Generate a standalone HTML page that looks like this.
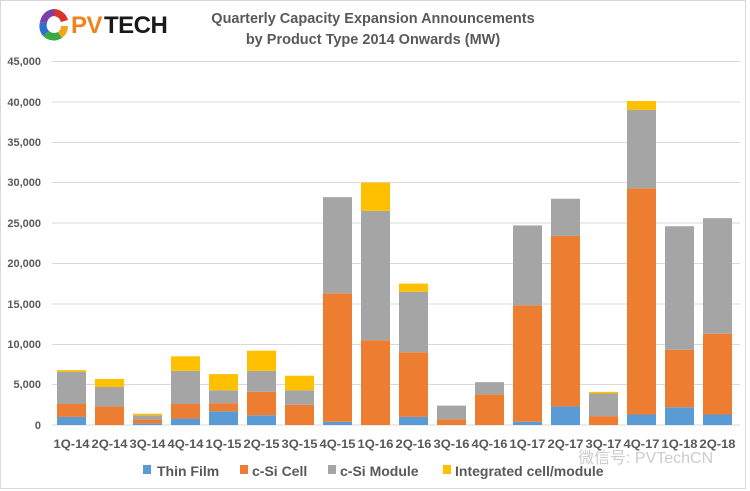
<!DOCTYPE html>
<html><head><meta charset="utf-8"><style>
body{margin:0;background:#fff;}
svg{display:block;font-family:"Liberation Sans",sans-serif;}
</style></head><body>
<svg width="750" height="491" viewBox="0 0 750 491" xmlns="http://www.w3.org/2000/svg">
<rect x="0.5" y="0.5" width="745" height="488" fill="#fff" stroke="#d9d9d9"/>
<!-- logo -->
<g>
<path d="M54 9 A15 15 0 0 1 68 20 L61 22 A8 8 0 0 0 54 16 Z" fill="#d9342b"/>
<path d="M40 22 A15 15 0 0 1 54 9 L54 16 A8 8 0 0 0 47 23 Z" fill="#7a3fa8"/>
<path d="M47 23 A8 8 0 0 0 49 31 L43 36 A15 15 0 0 1 40 22 Z" fill="#2a6fd1"/>
<path d="M49 31 A8 8 0 0 0 58 32 L62 38 A15 15 0 0 1 43 36 Z" fill="#39a845"/>
<path d="M58 32 A8 8 0 0 0 61 26 L68 26 A15 15 0 0 1 62 38 Z" fill="#f2a51a"/>
<text x="71" y="33" font-size="24" font-weight="bold" fill="#f0831d" letter-spacing="-0.5">PV</text>
<text x="104" y="33" font-size="24" font-weight="bold" fill="#1a1a1a" letter-spacing="-0.5">TECH</text>
</g>
<text x="373" y="23" font-size="14.5" fill="#595959" text-anchor="middle" font-weight="bold">Quarterly Capacity Expansion Announcements</text>
<text x="373" y="44" font-size="14.5" fill="#595959" text-anchor="middle" font-weight="bold">by Product Type 2014 Onwards (MW)</text>
<g stroke="#d9d9d9" stroke-width="1">
<line x1="52" x2="740" y1="61.5" y2="61.5"/><line x1="52" x2="740" y1="102" y2="102"/>
<line x1="52" x2="740" y1="142.5" y2="142.5"/><line x1="52" x2="740" y1="182.5" y2="182.5"/>
<line x1="52" x2="740" y1="223" y2="223"/><line x1="52" x2="740" y1="263.5" y2="263.5"/>
<line x1="52" x2="740" y1="304" y2="304"/><line x1="52" x2="740" y1="344.5" y2="344.5"/>
<line x1="52" x2="740" y1="384.5" y2="384.5"/><line x1="52" x2="740" y1="425" y2="425"/>
</g>
<g font-size="11" font-weight="bold" fill="#595959" text-anchor="end">
<text x="41" y="65">45,000</text><text x="41" y="106">40,000</text><text x="41" y="146">35,000</text>
<text x="41" y="186">30,000</text><text x="41" y="227">25,000</text><text x="41" y="267">20,000</text>
<text x="41" y="308">15,000</text><text x="41" y="348">10,000</text><text x="41" y="388">5,000</text>
<text x="41" y="429">0</text>
</g>
<g id="bars"></g>
<g id="labels" font-size="12" font-weight="bold" fill="#595959" text-anchor="middle"></g>
<g font-size="14" font-weight="bold" fill="#595959">
<rect x="143" y="465" width="8" height="9" fill="#5b9bd5"/><text x="157" y="476">Thin Film</text>
<rect x="240" y="465" width="8" height="9" fill="#ed7d31"/><text x="252" y="476">c-Si Cell</text>
<rect x="328" y="465" width="8" height="9" fill="#a5a5a5"/><text x="340" y="476">c-Si Module</text>
<rect x="443" y="465" width="8" height="9" fill="#ffc000"/><text x="455" y="476">Integrated cell/module</text>
</g>
<text x="578" y="463" font-size="16" fill="#cccccc" font-family="'Liberation Sans','Noto Sans CJK SC',sans-serif">微信号: PVTechCN</text>
<script>
var d=[["1Q-14",1000,2600,6600,6800],["2Q-14",0,2300,4700,5700],["3Q-14",200,700,1200,1400],["4Q-14",800,2600,6700,8500],["1Q-15",1700,2700,4300,6300],["2Q-15",1200,4100,6700,9200],["3Q-15",0,2500,4300,6100],["4Q-15",400,16300,28200,28200],["1Q-16",0,10500,26500,30000],["2Q-16",1000,9000,16500,17500],["3Q-16",0,700,2400,2400],["4Q-16",0,3800,5300,5300],["1Q-17",400,14800,24700,24700],["2Q-17",2300,23400,28000,28000],["3Q-17",0,1100,3900,4100],["4Q-17",1300,29300,39000,40100],["1Q-18",2200,9300,24600,24600],["2Q-18",1300,11300,25600,25600]];
var c=["#5b9bd5","#ed7d31","#a5a5a5","#ffc000"],ns="http://www.w3.org/2000/svg",b=document.getElementById("bars"),l=document.getElementById("labels");
function y(v){return 425-v*40.4/5000;}
d.forEach(function(r,i){var x=57+i*38;var p=0;for(var k=0;k<4;k++){var v=r[k+1];if(v>p){var e=document.createElementNS(ns,"rect");e.setAttribute("x",x);e.setAttribute("width",29);e.setAttribute("y",y(v));e.setAttribute("height",y(p)-y(v));e.setAttribute("fill",c[k]);b.appendChild(e);}p=Math.max(p,v);}
var t=document.createElementNS(ns,"text");t.setAttribute("x",x+14.5);t.setAttribute("y",448);t.setAttribute("textLength",36);t.setAttribute("lengthAdjust","spacingAndGlyphs");t.textContent=r[0];l.appendChild(t);});
</script>
</svg>
</body></html>
